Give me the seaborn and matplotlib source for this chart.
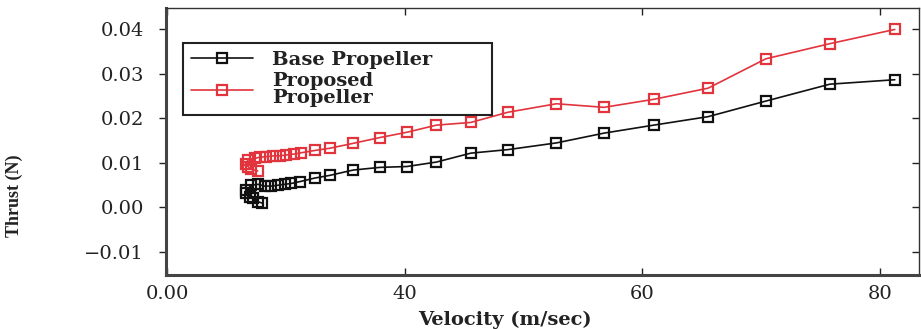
import numpy as np
import pandas as pd
import matplotlib
matplotlib.use("Agg")
import matplotlib.pyplot as plt
import seaborn as sns

# ---- data ----
base_velocity = [27.96, 27.65, 27.23, 26.95, 26.67, 26.67, 27.09, 27.65, 28.21, 28.77,
                 29.33, 29.89, 30.46, 31.16, 32.42, 33.68, 35.65, 37.89, 40.19, 42.67,
                 45.56, 48.70, 52.77, 56.78, 60.97, 65.54, 70.40, 75.79, 81.26]
base_thrust = [0.0009, 0.0012, 0.0020, 0.0023, 0.0031, 0.0038, 0.0049, 0.0051, 0.0047, 0.0047,
               0.0049, 0.0051, 0.0053, 0.0057, 0.0065, 0.0071, 0.0083, 0.0089, 0.0091, 0.0101,
               0.0121, 0.0129, 0.0144, 0.0166, 0.0184, 0.0203, 0.0238, 0.0276, 0.0286]

prop_velocity = [27.62, 27.09, 26.80, 26.67, 26.80, 27.37, 27.79, 28.35, 28.91, 29.47,
                 30.04, 30.68, 31.30, 32.42, 33.68, 35.65, 37.89, 40.19, 42.67, 45.56,
                 48.70, 52.77, 56.78, 60.97, 65.54, 70.40, 75.79, 81.26]
prop_thrust = [0.0081, 0.0085, 0.0091, 0.0097, 0.0106, 0.0109, 0.0112, 0.0113, 0.0115, 0.0115,
               0.0117, 0.0119, 0.0122, 0.0127, 0.0132, 0.0143, 0.0156, 0.0168, 0.0184, 0.0190,
               0.0213, 0.0232, 0.0224, 0.0242, 0.0267, 0.0333, 0.0367, 0.0399]

series_labels = ["Base Propeller", "Proposed\nPropeller"]
x_ticks = [20, 40, 60, 80]
x_tick_labels = ["0.00", "40", "60", "80"]
y_ticks = [-0.01, 0.00, 0.01, 0.02, 0.03, 0.04]
y_tick_labels = ["\u22120.01", "0.00", "0.01", "0.02", "0.03", "0.04"]

base_df = pd.DataFrame({"Velocity": base_velocity, "Thrust": base_thrust})
prop_df = pd.DataFrame({"Velocity": prop_velocity, "Thrust": prop_thrust})

sns.set_theme(style="white")
plt.rcParams["font.family"] = ["DejaVu Serif"]

fig = plt.figure(figsize=(9.21, 3.29), dpi=100)
ax = fig.add_axes([166 / 921, 1 - 275 / 329, (919 - 166) / 921, (275 - 8) / 329])

black = "#111111"
red = "#e2343c"
sns.lineplot(data=base_df, x="Velocity", y="Thrust", sort=False, estimator=None,
             color=black, lw=1.2, marker="s", markersize=6.5, markerfacecolor="none",
             markeredgecolor=black, markeredgewidth=1.6, label=series_labels[0], ax=ax)
sns.lineplot(data=prop_df, x="Velocity", y="Thrust", sort=False, estimator=None,
             color=red, lw=1.2, marker="s", markersize=6.5, markerfacecolor="none",
             markeredgecolor=red, markeredgewidth=1.6, label=series_labels[1], ax=ax)

ax.set_xlim(19.9, 83.3)
ax.set_ylim(-0.01528, 0.04472)
ax.set_xticks(x_ticks)
ax.set_xticklabels(x_tick_labels)
ax.set_yticks(y_ticks)
ax.set_yticklabels(y_tick_labels)

ax.tick_params(axis="y", which="both", left=True, right=True, direction="out",
               length=5, width=1, pad=11, labelsize=14, colors="#222222")
ax.tick_params(axis="x", which="both", bottom=True, top=True, direction="in",
               length=5, width=1, pad=7, labelsize=14, colors="#222222")
# right-side ticks pointing in
for t in ax.yaxis.get_major_ticks():
    t.tick2line.set_marker(matplotlib.lines.TICKLEFT)

for side in ["left", "bottom"]:
    ax.spines[side].set_linewidth(2.2)
    ax.spines[side].set_color("#444444")
for side in ["top", "right"]:
    ax.spines[side].set_linewidth(1.0)
    ax.spines[side].set_color("#333333")

ax.set_xlabel("Velocity (m/sec)", fontsize=14, fontweight="bold", color="#222222")
ax.xaxis.set_label_coords((505 - 166) / 753, (275 - 320) / 267)
ax.xaxis.label.set_va("center")
ax.set_ylabel("Thrust (N)", fontsize=13, fontweight="bold", color="#222222",
              family=["Liberation Serif"])
ax.yaxis.set_label_coords((14 - 166) / 753, (275 - 196) / 267)
ax.yaxis.label.set_va("center")

leg = ax.legend(loc="upper left", bbox_to_anchor=(17 / 753, 0.55, 309 / 753, 0.869 - 0.55),
                mode="expand", borderaxespad=0, frameon=True, fancybox=False,
                framealpha=1, edgecolor="#222222", handlelength=3.2, handletextpad=1.0,
                borderpad=0.4, labelspacing=0.15,
                prop={"family": "DejaVu Serif", "weight": "bold", "size": 14})
leg.get_frame().set_linewidth(1.5)
for txt in leg.get_texts():
    txt.set_linespacing(0.95)
    txt.set_color("#222222")

fig.savefig("out.png", dpi=100)
